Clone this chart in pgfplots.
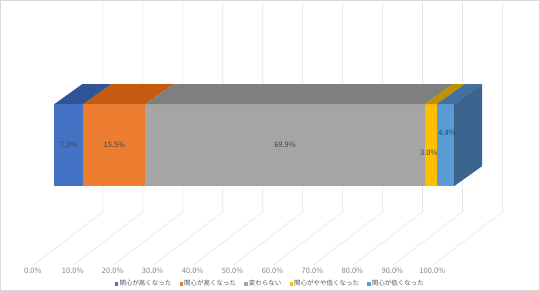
\documentclass[border=0pt]{standalone}
\usepackage{fontspec}
\setmainfont{Noto Sans CJK JP}
\usepackage{pgfplots}
\pgfplotsset{compat=1.18}
\definecolor{cA}{HTML}{4472C4}
\definecolor{cB}{HTML}{ED7D31}
\definecolor{cC}{HTML}{A5A5A5}
\definecolor{cD}{HTML}{FFC000}
\definecolor{cE}{HTML}{5B9BD5}
\definecolor{tA}{HTML}{2F5597}
\definecolor{tB}{HTML}{C55A11}
\definecolor{tC}{HTML}{7F7F7F}
\definecolor{tD}{HTML}{BF9000}
\definecolor{tE}{HTML}{41719C}
\definecolor{sE}{HTML}{3A638E}
\definecolor{gridc}{HTML}{E4E4E4}
\definecolor{tickc}{HTML}{808080}
\definecolor{labc}{HTML}{404040}
\definecolor{legc}{HTML}{595959}
\definecolor{frame}{HTML}{D9D9D9}
\begin{document}
\begin{tikzpicture}
\begin{axis}[
  width=540bp, height=290bp, scale only axis,
  xmin=-13.5, xmax=121.5, ymin=0, ymax=290,
  hide axis, clip=false,
  legend image code/.code={\fill[#1] (0bp,-1.7bp) rectangle (3.4bp,1.7bp);},
  legend style={at={(axis cs:54,6)}, anchor=center, draw=none, fill=none,
    legend columns=5, font=\fontsize{6.5bp}{7bp}\selectfont, text=legc,
    inner sep=0pt, /tikz/every even column/.append style={column sep=7bp},
    nodes={inner sep=1.2bp}},
]
% frame
\draw[frame, line width=0.6bp] (rel axis cs:0,0) rectangle (rel axis cs:1,1);
% back wall and floor grid
\pgfplotsinvokeforeach{0,10,...,100}{
  \draw[gridc, line width=0.6bp] (axis cs:{12.175+#1},288) -- (axis cs:{12.175+#1},78.3) -- (axis cs:{-5.175+#1},25);
  \node[text=tickc, font=\fontsize{7.5bp}{8bp}\selectfont, inner sep=0pt] at (axis cs:{-5.375+#1},19) {#1.0\%};
}
% front faces
\addplot[fill=cA, draw=none] coordinates {(0,104) (7.3,104) (7.3,186) (0,186)} -- cycle;
\addlegendentry{関心が高くなった}
\addplot[fill=cB, draw=none] coordinates {(7.3,104) (22.8,104) (22.8,186) (7.3,186)} -- cycle;
\addlegendentry{関心が高くなった}
\addplot[fill=cC, draw=none] coordinates {(22.8,104) (92.7,104) (92.7,186) (22.8,186)} -- cycle;
\addlegendentry{変わらない}
\addplot[fill=cD, draw=none] coordinates {(92.7,104) (95.7,104) (95.7,186) (92.7,186)} -- cycle;
\addlegendentry{関心がやや低くなった}
\addplot[fill=cE, draw=none] coordinates {(95.7,104) (100.1,104) (100.1,186) (95.7,186)} -- cycle;
\addlegendentry{関心が低くなった}
% top faces
\addplot[fill=tA, draw=none, forget plot] coordinates {(0,186) (7.3,186) (14.3,206) (7,206)} -- cycle;
\addplot[fill=tB, draw=none, forget plot] coordinates {(7.3,186) (22.8,186) (29.8,206) (14.3,206)} -- cycle;
\addplot[fill=tC, draw=none, forget plot] coordinates {(22.8,186) (92.7,186) (99.7,206) (29.8,206)} -- cycle;
\addplot[fill=tD, draw=none, forget plot] coordinates {(92.7,186) (95.7,186) (102.7,206) (99.7,206)} -- cycle;
\addplot[fill=tE, draw=none, forget plot] coordinates {(95.7,186) (100.1,186) (107.1,206) (102.7,206)} -- cycle;
% side face
\addplot[fill=sE, draw=none, forget plot] coordinates {(100.1,104) (100.1,186) (107.1,206) (107.1,124)} -- cycle;
% data labels
\begin{scope}[every node/.style={text=labc, font=\fontsize{7.5bp}{8bp}\selectfont, inner sep=0pt}]
\node at (axis cs:3.65,145) {7.3\%};
\node at (axis cs:15.05,145) {15.5\%};
\node at (axis cs:57.75,145) {69.9\%};
\node at (axis cs:93.75,137) {3.0\%};
\node at (axis cs:98.3,157) {4.4\%};
\end{scope}
\end{axis}
\end{tikzpicture}
\end{document}
